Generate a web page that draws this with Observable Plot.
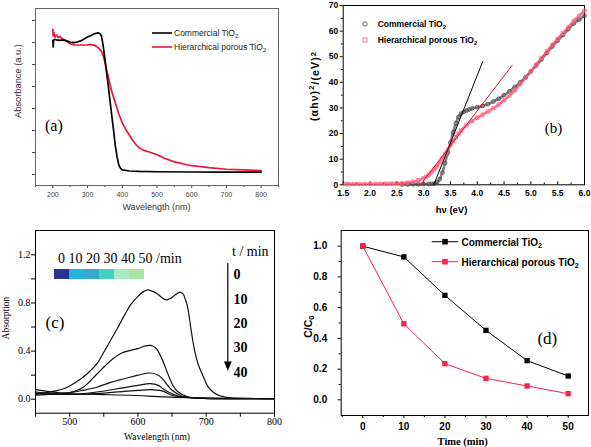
<!DOCTYPE html>
<html>
<head>
<meta charset="utf-8">
<script src="https://cdn.jsdelivr.net/npm/d3@7"></script>
<script src="https://cdn.jsdelivr.net/npm/@observablehq/plot@0.6"></script>
<style>
  html,body{margin:0;padding:0;background:#fff;}
  #wrap{position:relative;width:591px;height:447px;overflow:hidden;background:#fff;}
  .panel{position:absolute;}
  #overlay{position:absolute;left:0;top:0;pointer-events:none;}
</style>
</head>
<body>
<div id="wrap"></div>
<script>
// ---------------- DATA ----------------
// Series names (last char rendered as subscript)
const seriesNames = ["Commercial TiO2", "Hierarchical porous TiO2"];

// Panel (a) UV-vis absorbance
const wlA_black = [200,201,202,205,210,220,230,240,250,260,270,280,290,300,310,320,330,336,340,345,350,355,360,365,370,375,380,385,390,395,400,420,450,500,600,700,800];
const absA_black = [1.22,1.16,1.22,1.23,1.225,1.22,1.225,1.215,1.205,1.20,1.205,1.215,1.233,1.25,1.265,1.28,1.288,1.28,1.26,1.17,1.05,0.92,0.80,0.66,0.53,0.40,0.26,0.16,0.085,0.055,0.042,0.032,0.028,0.025,0.023,0.022,0.022];
const wlA_red = [200,201,203,206,210,215,220,225,230,240,250,260,270,280,290,300,310,320,330,340,345,350,355,360,370,380,390,400,410,420,430,440,450,460,480,500,520,550,600,650,700,750,800];
const absA_red = [1.32,1.26,1.29,1.25,1.27,1.245,1.255,1.24,1.23,1.21,1.19,1.18,1.178,1.178,1.178,1.18,1.183,1.175,1.155,1.12,1.08,1.02,0.95,0.88,0.75,0.65,0.55,0.47,0.41,0.36,0.31,0.27,0.24,0.222,0.203,0.18,0.15,0.115,0.08,0.062,0.048,0.042,0.035];
const aXMajor = [200,300,400,500,600,700,800];
const aXMinor = [150,250,350,450,550,650,750,850];
const aYTicks = [0,0.2,0.4,0.6,0.8,1.0,1.2,1.4];

// Panel (b) Tauc plot
const evB_black = [2.6,2.7,2.8,2.9,3.0,3.1,3.15,3.2,3.25,3.3,3.35,3.4,3.45,3.5,3.55,3.6,3.65,3.7,3.75,3.8,3.85,3.9,4.0,4.1,4.2,4.3,4.4,4.5,4.6,4.7,4.8,4.9,5.0,5.1,5.2,5.3,5.4,5.5,5.6,5.7,5.8,5.9,6.0];
const valB_black = [0.15,0.18,0.2,0.25,0.3,0.35,0.4,0.5,0.9,2.2,4.8,8.5,12.5,16.5,20.5,24,26.5,27.8,28.5,29,29.4,29.8,30.3,30.8,31.5,32.5,33.6,35,36.5,38.2,40,42,44.3,46.6,49,51.5,54,56.3,58.5,60.8,63,64.5,66];
const evB_red = [1.55,1.6,1.7,1.8,1.9,2.0,2.1,2.2,2.3,2.4,2.5,2.6,2.7,2.8,2.9,3.0,3.05,3.1,3.15,3.2,3.25,3.3,3.35,3.4,3.45,3.5,3.55,3.6,3.65,3.7,3.8,3.9,4.0,4.1,4.2,4.3,4.4,4.5,4.6,4.7,4.8,4.9,5.0,5.1,5.2,5.3,5.4,5.5,5.6,5.7,5.8,5.9,6.0];
const valB_red = [0.3,0.3,0.3,0.32,0.35,0.37,0.4,0.42,0.45,0.5,0.55,0.65,0.85,1.2,1.8,2.6,3.2,4.0,4.9,6.0,7.3,8.8,10.4,12.1,13.8,15.5,17.1,18.6,20,21.2,23.3,24.9,26.2,27.4,28.6,29.9,31.3,33,34.8,36.9,39.3,41.8,44.3,46.9,49.5,52.1,54.6,57,59.3,61.6,64,66,68];
const fitBlackX = [3.19, 4.1];
const fitBlackY = [0, 48];
const fitRedX = [2.94, 4.65];
const fitRedY = [0, 46.6];
const bXTicks = [1.5,2.0,2.5,3.0,3.5,4.0,4.5,5.0,5.5,6.0];
const bXMinor = [1.75,2.25,2.75,3.25,3.75,4.25,4.75,5.25,5.75];
const bYTicks = [0,10,20,30,40,50,60,70];
const bYMinor = [5,15,25,35,45,55,65];

// Panel (c) MB absorption spectra vs time
const wlC0 = [450,460,470,480,490,500,510,520,530,540,550,560,570,580,590,600,607,614,620,627,634,641,647,654,661,666,670,673,678,683,688,696,703,710,718,728,737,760,800];
const absC0 = [0.04,0.05,0.06,0.07,0.085,0.11,0.145,0.185,0.235,0.295,0.39,0.49,0.59,0.695,0.79,0.855,0.89,0.908,0.9,0.88,0.85,0.825,0.835,0.865,0.888,0.875,0.82,0.76,0.57,0.405,0.295,0.185,0.10,0.06,0.033,0.018,0.011,0.007,0.005];
const wlC10 = [450,475,500,520,540,560,575,585,600,609,619,627,634,644,651,659,673,698,750,800];
const absC10 = [0.033,0.042,0.055,0.10,0.21,0.32,0.38,0.40,0.42,0.44,0.447,0.42,0.35,0.21,0.116,0.06,0.02,0.008,0.005,0.004];
const wlC20 = [450,475,500,520,540,560,580,600,618,630,636,643,650,665,690,800];
const absC20 = [0.05,0.05,0.055,0.075,0.10,0.14,0.17,0.2,0.218,0.2,0.17,0.12,0.074,0.025,0.01,0.005];
const wlC30 = [450,500,540,580,600,618,630,640,660,690,800];
const absC30 = [0.047,0.04,0.06,0.097,0.115,0.13,0.115,0.074,0.025,0.01,0.005];
const wlC40 = [450,500,540,580,600,618,635,650,670,800];
const absC40 = [0.06,0.04,0.047,0.066,0.074,0.08,0.07,0.033,0.015,0.005];
const wlC50 = [450,475,500,540,590,640,700,800];
const absC50 = [0.08,0.06,0.047,0.04,0.033,0.02,0.01,0.005];
const cXLabels = [500,600,700,800];
const cXTicks = [450,500,550,600,650,700,750,800];
const cYLabels = [0,0.4,0.8,1.2];
const cYTicks = [0,0.2,0.4,0.6,0.8,1.0,1.2];
const colorBarLabel = "0 10 20 30 40 50 /min";
const colorBarColors = ["#2a3490","#25b5da","#3aa8cc","#47d0c0","#a2eac8","#a8e4a2"];
const timeLabelsC = ["0","10","20","30","40"];

// Panel (d) C/C0 vs time
const timeD = [0,10,20,30,40,50];
const commD = [1.0,0.93,0.68,0.452,0.255,0.155];
const hierD = [1.0,0.495,0.235,0.14,0.09,0.04];
const dXMinor = [-5,5,15,25,35,45];
const dYTicks = [0,0.2,0.4,0.6,0.8,1.0];
const dYMinor = [0.1,0.3,0.5,0.7,0.9];

// ---------------- STYLE ----------------
const SANS = "'Liberation Sans', Arial, Helvetica, sans-serif";
const SERIF = "'Liberation Serif', 'Times New Roman', Times, serif";
const RED_A = "#f0143c";
const RED_B = "#ff4068";
const RED_FIT = "#e8102a";
const RED_D = "#f7234f";

const wrap = document.getElementById("wrap");
function place(svg, left, top) {
  const d = document.createElement("div");
  d.className = "panel";
  d.style.left = left + "px";
  d.style.top = top + "px";
  d.appendChild(svg);
  wrap.appendChild(d);
}

// ---------------- PANEL A ----------------
const plotA = Plot.plot({
  width: 295, height: 215,
  marginLeft: 35, marginRight: 17, marginTop: 8, marginBottom: 30,
  style: {fontFamily: SANS, background: "transparent", color: "#444"},
  x: {domain: [150, 850]},
  y: {domain: [-0.1, 1.51]},
  marks: [
    Plot.axisX({ticks: aXMajor, tickSize: 3, tickPadding: 3.5, fontSize: 7, color: "#444", label: null}),
    Plot.axisX({ticks: aXMinor, tickSize: 2, stroke: "#444", fill: "none", label: null}),
    Plot.axisY({ticks: aYTicks, tickSize: 3, stroke: "#444", fill: "none", label: null}),
    Plot.frame({stroke: "#666"}),
    Plot.line(wlA_red, {x: wlA_red, y: absA_red, stroke: RED_A, strokeWidth: 1.7}),
    Plot.line(wlA_black, {x: wlA_black, y: absA_black, stroke: "#000", strokeWidth: 1.7})
  ]
});
place(plotA, 0, 0);

// ---------------- PANEL B ----------------
const plotB = Plot.plot({
  width: 296, height: 215,
  marginLeft: 47.7, marginRight: 7, marginTop: 5, marginBottom: 30.7,
  style: {fontFamily: SANS, background: "transparent", color: "#000"},
  x: {domain: [1.5, 6.0]},
  y: {domain: [0, 70]},
  marks: [
    Plot.axisX({ticks: bXTicks, tickSize: 0, tickPadding: 5.5, tickFormat: d3.format(".1f"), fontSize: 8.5, fontWeight: "bold", label: null}),
    Plot.axisX({ticks: bXTicks, tickSize: 3, dy: -3, fill: "none", label: null}),
    Plot.axisX({ticks: bXMinor, tickSize: 1.8, dy: -1.8, fill: "none", label: null}),
    Plot.axisY({ticks: bYTicks, tickSize: 3, tickPadding: 2, fontSize: 8.5, fontWeight: "bold", label: null}),
    Plot.axisY({ticks: bYMinor, tickSize: 1.8, fill: "none", label: null}),
    Plot.frame({stroke: "#000"}),
    Plot.line(evB_black, {x: evB_black, y: valB_black, stroke: "#555", strokeWidth: 2.6, strokeOpacity: 0.75, curve: "catmull-rom"}),
    Plot.dot(evB_black, {x: evB_black, y: valB_black, r: 1.9, stroke: "#444", strokeWidth: 0.8, fill: "none"}),
    Plot.line(evB_red, {x: evB_red, y: valB_red, stroke: RED_B, strokeWidth: 2.6, strokeOpacity: 0.75, curve: "catmull-rom"}),
    Plot.dot(evB_red, {x: evB_red, y: valB_red, r: 1.9, symbol: "square", stroke: "#ff6f8c", strokeWidth: 0.8, fill: "none"}),
    Plot.line(fitBlackX, {x: fitBlackX, y: fitBlackY, stroke: "#000", strokeWidth: 1}),
    Plot.line(fitRedX, {x: fitRedX, y: fitRedY, stroke: RED_FIT, strokeWidth: 1})
  ]
});
place(plotB, 295, 0);

// ---------------- PANEL C ----------------
const curvesC = [[wlC0, absC0],[wlC10, absC10],[wlC20, absC20],[wlC30, absC30],[wlC40, absC40],[wlC50, absC50]];
const plotC = Plot.plot({
  width: 295, height: 232,
  marginLeft: 35, marginRight: 21, marginTop: 15, marginBottom: 34.3,
  style: {fontFamily: SERIF, background: "transparent", color: "#000"},
  x: {domain: [450, 800]},
  y: {domain: [-0.116, 1.402]},
  marks: [
    Plot.axisX({ticks: cXLabels, tickSize: 0, tickPadding: 4.5, fontSize: 10, label: null}),
    Plot.axisX({ticks: cXTicks, tickSize: 4, fill: "none", label: null}),
    Plot.axisY({ticks: cYLabels, tickSize: 0, tickPadding: 5, tickFormat: d3.format(".1f"), fontSize: 10, label: null}),
    Plot.axisY({ticks: cYTicks, tickSize: 4, fill: "none", label: null}),
    Plot.frame({stroke: "#000"}),
    ...curvesC.map(([wl, ab]) => Plot.line(wl, {x: wl, y: ab, stroke: "#111", strokeWidth: 1.2, curve: "catmull-rom"}))
  ]
});
place(plotC, 0, 215);

// ---------------- PANEL D ----------------
const plotD = Plot.plot({
  width: 296, height: 232,
  marginLeft: 45.7, marginRight: 3, marginTop: 15, marginBottom: 32,
  style: {fontFamily: SANS, background: "transparent", color: "#000"},
  x: {domain: [-5.25, 54.95]},
  y: {domain: [-0.102, 1.102]},
  marks: [
    Plot.axisX({ticks: timeD, tickSize: 3, tickPadding: 4, fontSize: 10, fontWeight: "bold", label: null}),
    Plot.axisX({ticks: dXMinor, tickSize: 2, fill: "none", label: null}),
    Plot.axisY({ticks: dYTicks, tickSize: 3, tickPadding: 11, tickFormat: d3.format(".1f"), fontSize: 10, fontWeight: "bold", label: null}),
    Plot.axisY({ticks: dYMinor, tickSize: 2, fill: "none", label: null}),
    Plot.frame({stroke: "#000"}),
    Plot.line(timeD, {x: timeD, y: commD, stroke: "#000", strokeWidth: 1}),
    Plot.dot(timeD, {x: timeD, y: commD, symbol: "square", r: 3, fill: "#000"}),
    Plot.line(timeD, {x: timeD, y: hierD, stroke: RED_D, strokeWidth: 1}),
    Plot.dot(timeD, {x: timeD, y: hierD, symbol: "square", r: 3, fill: RED_D})
  ]
});
place(plotD, 295, 215);

// ---------------- OVERLAY: titles, legends, annotations ----------------
const ov = d3.create("svg").attr("id", "overlay").attr("width", 591).attr("height", 447);

function label(txt, x, y, o) {
  const t = ov.append("text")
    .attr("x", x).attr("y", y).attr("dy", "0.35em")
    .attr("font-family", o.family).attr("font-size", o.size)
    .attr("font-weight", o.weight || "normal")
    .attr("fill", o.fill || "#000")
    .attr("text-anchor", o.anchor || "middle");
  if (o.rotate) t.attr("transform", `rotate(${o.rotate},${x},${y})`);
  if (o.spacing) t.attr("letter-spacing", o.spacing);
  if (o.parts) {
    o.parts.forEach(p => {
      const s = t.append("tspan").text(p.t);
      if (p.dy) s.attr("dy", p.dy);
      if (p.size) s.attr("font-size", p.size);
    });
  } else t.text(txt);
  return t;
}
function subName(name, size, shift) {
  return [{t: name.slice(0, -1)}, {t: name.slice(-1), dy: shift + "em", size: size * 0.72}];
}

// Panel (a) annotations
label("Absorbance (a.u.)", 18, 81, {family: SANS, size: 9.3, fill: "#333", rotate: -90});
label("Wavelength (nm)", 156.5, 207, {family: SANS, size: 9, fill: "#333"});
label("(a)", 45, 125, {family: SERIF, size: 16, anchor: "start"});
[["#000", 33], [RED_A, 47]].forEach(([c, y], i) => {
  ov.append("line").attr("x1", 152).attr("x2", 172).attr("y1", y).attr("y2", y).attr("stroke", c).attr("stroke-width", 1.6);
  label(null, 174, y, {family: SANS, size: 8.5, fill: "#222", anchor: "start", parts: subName(seriesNames[i], 8.5, 0.3)});
});

// Panel (b) annotations
label(null, 314, 86, {family: SANS, size: 10.5, weight: "bold", rotate: -90, spacing: 1.1,
  parts: [{t: "(αhν)"}, {t: "2", dy: "-0.45em", size: 7.5}, {t: "/(eV)", dy: "0.45em"}, {t: "2", dy: "-0.45em", size: 7.5}]});
label("hν (eV)", 451.5, 209.5, {family: SANS, size: 9.5, weight: "bold"});
label("(b)", 553.5, 128, {family: SERIF, size: 15});
ov.append("circle").attr("cx", 365).attr("cy", 24).attr("r", 2.2).attr("fill", "none").attr("stroke", "#555").attr("stroke-width", 0.9);
ov.append("rect").attr("x", 363).attr("y", 38).attr("width", 4).attr("height", 4).attr("fill", "none").attr("stroke", "#ff6f8c").attr("stroke-width", 0.9);
[24, 40].forEach((y, i) => label(null, 377.7, y, {family: SANS, size: 8.5, weight: "bold", anchor: "start", parts: subName(seriesNames[i], 8.5, 0.3)}));

// Panel (c) annotations
label("Absorption", 5.5, 318, {family: SERIF, size: 9.5, rotate: -90});
label("Wavelength (nm)", 157, 437, {family: SERIF, size: 9.5});
label("(c)", 55, 321.7, {family: SERIF, size: 17});
label(colorBarLabel, 58, 257.7, {family: SERIF, size: 14, anchor: "start"});
colorBarColors.forEach((c, i) => ov.append("rect").attr("x", 54 + i * 15).attr("y", 269).attr("width", 15).attr("height", 10).attr("fill", c));
label("t / min", 232, 250.7, {family: SERIF, size: 14, anchor: "start"});
timeLabelsC.forEach((t, i) => label(t, 233.5, 274.3 + i * 24.35, {family: SERIF, size: 14, weight: "bold", anchor: "start"}));
ov.append("line").attr("x1", 227.8).attr("x2", 227.8).attr("y1", 263).attr("y2", 363).attr("stroke", "#000").attr("stroke-width", 1.2);
ov.append("path").attr("d", "M224,361.5L231.7,361.5L227.85,371Z").attr("fill", "#000");

// Panel (d) annotations
label("Time (min)", 462.7, 441.7, {family: SERIF, size: 10.5, weight: "bold"});
label(null, 308.3, 326.7, {family: SANS, size: 10.5, weight: "bold", rotate: -90,
  parts: [{t: "C/C"}, {t: "0", dy: "0.3em", size: 7.5}]});
label("(d)", 547.3, 338, {family: SERIF, size: 17});
[["#000", 241.7], [RED_D, 261.7]].forEach(([c, y], i) => {
  ov.append("line").attr("x1", 431.7).attr("x2", 458).attr("y1", y).attr("y2", y).attr("stroke", c).attr("stroke-width", 1);
  ov.append("rect").attr("x", 442.2).attr("y", y - 2.8).attr("width", 5.6).attr("height", 5.6).attr("fill", c);
  label(null, 461.5, y + 0.5, {family: SANS, size: 10, weight: "bold", anchor: "start", parts: subName(seriesNames[i], 10, 0.3)});
});

wrap.appendChild(ov.node());
</script>
</body>
</html>
